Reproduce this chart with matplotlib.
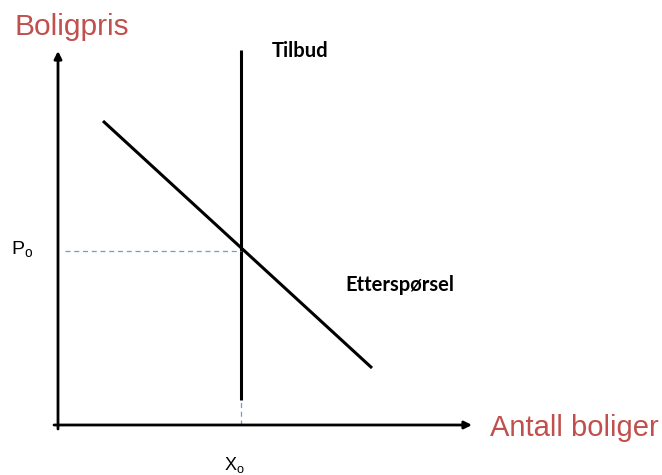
import matplotlib.pyplot as plt

# koordinater i et enkelt system: origo i akse-hjørnet
supply_x = [183, 183]
supply_y = [25, 375]
demand_x = [45, 314]
demand_y = [304, 57]
p0 = 174
x0 = 183

red = "#C0504D"

fig = plt.figure(figsize=(6.62, 4.75), dpi=100)
ax = fig.add_axes([0, 0, 1, 1])
ax.set_xlim(-58, 604)
ax.set_ylim(-50, 425)
ax.axis("off")

# akser med piler
arrow = dict(arrowstyle="-|>", color="black", lw=2, mutation_scale=11,
             shrinkA=0, shrinkB=0)
ax.annotate("", xy=(0, 374), xytext=(0, -4), arrowprops=arrow)
ax.annotate("", xy=(414, 0), xytext=(-4, 0), arrowprops=arrow)

# tilbud og etterspørsel
ax.plot(supply_x, supply_y, color="black", lw=2.2, solid_capstyle="butt")
ax.plot(demand_x, demand_y, color="black", lw=2.2, solid_capstyle="butt")

# stiplede hjelpelinjer
ax.plot([7, x0], [p0, p0], color="#6A9FD0", lw=0.9, ls=(0, (4, 3)))
ax.plot([x0, x0], [0, supply_y[0]], color="#6A9FD0", lw=0.9, ls=(0, (4, 3)))

# tekster
ax.text(-44, 398, "Boligpris", color=red, fontsize=21.5, family="Liberation Sans",
        va="center", ha="left")
ax.text(432, -3, "Antall boliger", color=red, fontsize=21, family="Liberation Sans",
        va="center", ha="left")
ax.text(214, 374, "Tilbud", fontsize=14.5, fontweight="bold", family="Lato",
        va="center", ha="left")
ax.text(287, 140, "Etterspørsel", fontsize=14.5, fontweight="bold", family="Lato",
        va="center", ha="left")
ax.text(-47, p0 + 1, r"P$_\mathregular{o}$", fontsize=14, family="Liberation Sans",
        va="center", ha="left")
ax.text(x0 - 17, -40, r"X$_\mathregular{o}$", fontsize=13, family="Liberation Sans",
        va="center", ha="left")

fig.savefig("out.png", dpi=100)
